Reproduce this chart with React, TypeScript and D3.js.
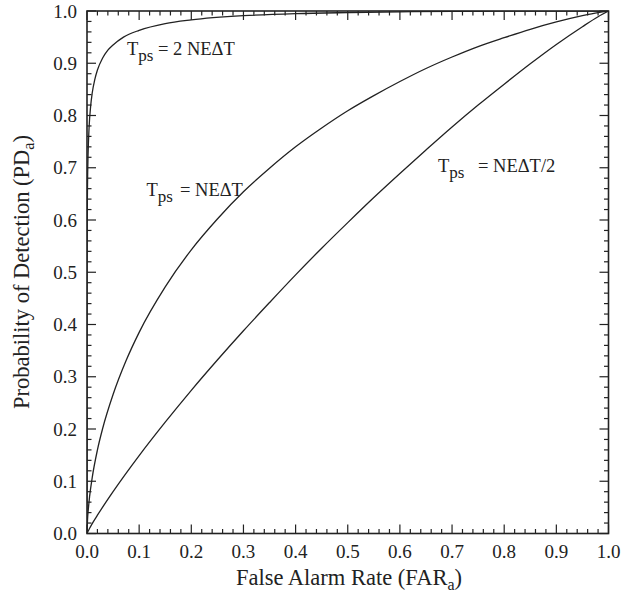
import React from 'react';
import * as d3 from 'd3';

// Tick values
const xTicks = [0, 0.1, 0.2, 0.3, 0.4, 0.5, 0.6, 0.7, 0.8, 0.9, 1.0];
const yTicks = [0, 0.1, 0.2, 0.3, 0.4, 0.5, 0.6, 0.7, 0.8, 0.9, 1.0];
const minorStep = 0.02;

// Curve: Tps = 2 NEΔT
const far2 = [0, 0.00001, 0.0001, 0.0005, 0.001, 0.002, 0.004, 0.007, 0.01, 0.015, 0.02, 0.03, 0.04, 0.05, 0.07, 0.1, 0.15, 0.2, 0.3, 0.4, 0.5, 0.6, 0.7, 0.8, 0.9, 1.0];
const pd2 = [0, 0.327, 0.484, 0.611, 0.667, 0.723, 0.777, 0.818, 0.843, 0.869, 0.887, 0.910, 0.925, 0.935, 0.950, 0.963, 0.976, 0.983, 0.991, 0.995, 0.997, 0.9984, 0.9992, 0.9996, 0.9999, 1.0];

// Curve: Tps = NEΔT
const far1 = [0, 0.001, 0.0025, 0.005, 0.01, 0.02, 0.03, 0.05, 0.075, 0.1, 0.15, 0.2, 0.25, 0.3, 0.35, 0.4, 0.45, 0.5, 0.55, 0.6, 0.65, 0.7, 0.75, 0.8, 0.85, 0.9, 0.95, 0.98, 1.0];
const pd1 = [0, 0.026, 0.046, 0.071, 0.107, 0.160, 0.201, 0.266, 0.331, 0.385, 0.472, 0.543, 0.602, 0.654, 0.699, 0.740, 0.776, 0.809, 0.838, 0.865, 0.890, 0.912, 0.932, 0.949, 0.965, 0.979, 0.991, 0.997, 1.0];

// Curve: Tps = NEΔT/2
const farH = [0, 0.001, 0.005, 0.01, 0.02, 0.05, 0.1, 0.15, 0.2, 0.25, 0.3, 0.35, 0.4, 0.45, 0.5, 0.55, 0.6, 0.65, 0.7, 0.75, 0.8, 0.85, 0.9, 0.95, 0.98, 1.0];
const pdH = [0, 0.002, 0.010, 0.019, 0.035, 0.080, 0.149, 0.213, 0.274, 0.332, 0.388, 0.442, 0.495, 0.546, 0.595, 0.643, 0.689, 0.734, 0.778, 0.820, 0.860, 0.899, 0.936, 0.970, 0.989, 1.0];

const FONT = '"Liberation Serif", "Times New Roman", serif';

export default function App() {
  const W = 625, H = 609;
  const x = d3.scaleLinear().domain([0, 1]).range([87, 608.5]);
  const y = d3.scaleLinear().domain([0, 1]).range([533.5, 11]);
  const line = d3.line<[number, number]>()
    .x(d => x(d[0]))
    .y(d => y(d[1]))
    .curve(d3.curveMonotoneX);

  const series = [
    far2.map((f, i) => [f, pd2[i]] as [number, number]),
    far1.map((f, i) => [f, pd1[i]] as [number, number]),
    farH.map((f, i) => [f, pdH[i]] as [number, number]),
  ];

  const minors = d3.range(0, 1.0001, minorStep).filter(v => Math.abs(Math.round(v * 10) - v * 10) > 1e-6);
  const [x0, x1] = x.range();
  const [y0, y1] = y.range();
  const MAJ = 9, MIN = 4.5;

  return (
    <svg width={W} height={H} style={{ position: 'absolute', left: 0, top: 0, background: '#fff' }}
      fontFamily={FONT}>
      <rect x={0} y={0} width={W} height={H} fill="#fff" />
      <defs>
        <clipPath id="plot">
          <rect x={x0} y={y1} width={x1 - x0} height={y0 - y1} />
        </clipPath>
      </defs>
      {/* curves */}
      <g clipPath="url(#plot)">
        {series.map((s, i) => (
          <path key={i} d={line(s) || ''} fill="none" stroke="#222" strokeWidth={1.3} />
        ))}
      </g>
      {/* ticks */}
      <g stroke="#222" strokeWidth={1.2}>
        {xTicks.map(t => (
          <g key={'xt' + t}>
            <line x1={x(t)} x2={x(t)} y1={y0} y2={y0 - MAJ} />
            <line x1={x(t)} x2={x(t)} y1={y1} y2={y1 + MAJ} />
          </g>
        ))}
        {minors.map(t => (
          <g key={'xm' + t}>
            <line x1={x(t)} x2={x(t)} y1={y0} y2={y0 - MIN} />
            <line x1={x(t)} x2={x(t)} y1={y1} y2={y1 + MIN} />
          </g>
        ))}
        {yTicks.map(t => (
          <g key={'yt' + t}>
            <line x1={x0} x2={x0 + MAJ} y1={y(t)} y2={y(t)} />
            <line x1={x1} x2={x1 - MAJ} y1={y(t)} y2={y(t)} />
          </g>
        ))}
        {minors.map(t => (
          <g key={'ym' + t}>
            <line x1={x0} x2={x0 + MIN} y1={y(t)} y2={y(t)} />
            <line x1={x1} x2={x1 - MIN} y1={y(t)} y2={y(t)} />
          </g>
        ))}
      </g>
      {/* frame */}
      <rect x={x0} y={y1} width={x1 - x0} height={y0 - y1} fill="none" stroke="#222" strokeWidth={1.6} />
      {/* tick labels */}
      <g fontSize={19} fill="#222">
        {xTicks.map(t => (
          <text key={'xl' + t} x={x(t)} y={558} textAnchor="middle">{t.toFixed(1)}</text>
        ))}
        {yTicks.map(t => (
          <text key={'yl' + t} x={77} y={y(t) + 6.5} textAnchor="end">{t.toFixed(1)}</text>
        ))}
      </g>
      {/* axis titles */}
      <text x={349} y={585} textAnchor="middle" fontSize={22.5} fill="#222">
        False Alarm Rate (FAR<tspan dy={5} fontSize={16}>a</tspan><tspan dy={-5}>)</tspan>
      </text>
      <text transform={`translate(29,272) rotate(-90)`} textAnchor="middle" fontSize={22.5} fill="#222">
        Probability of Detection (PD<tspan dy={5} fontSize={16}>a</tspan><tspan dy={-5}>)</tspan>
      </text>
      {/* annotations */}
      <g fontSize={18.5} fill="#222">
        <text x={127} y={55}>T<tspan dy={6} fontSize={17}>ps</tspan></text>
        <text x={158} y={55}>= 2 NEΔT</text>
        <text x={146.5} y={196}>T<tspan dy={6} fontSize={17}>ps</tspan></text>
        <text x={180} y={196}>= NEΔT</text>
        <text x={438} y={172}>T<tspan dy={6} fontSize={17}>ps</tspan></text>
        <text x={478} y={172}>= NEΔT/2</text>
      </g>
    </svg>
  );
}
